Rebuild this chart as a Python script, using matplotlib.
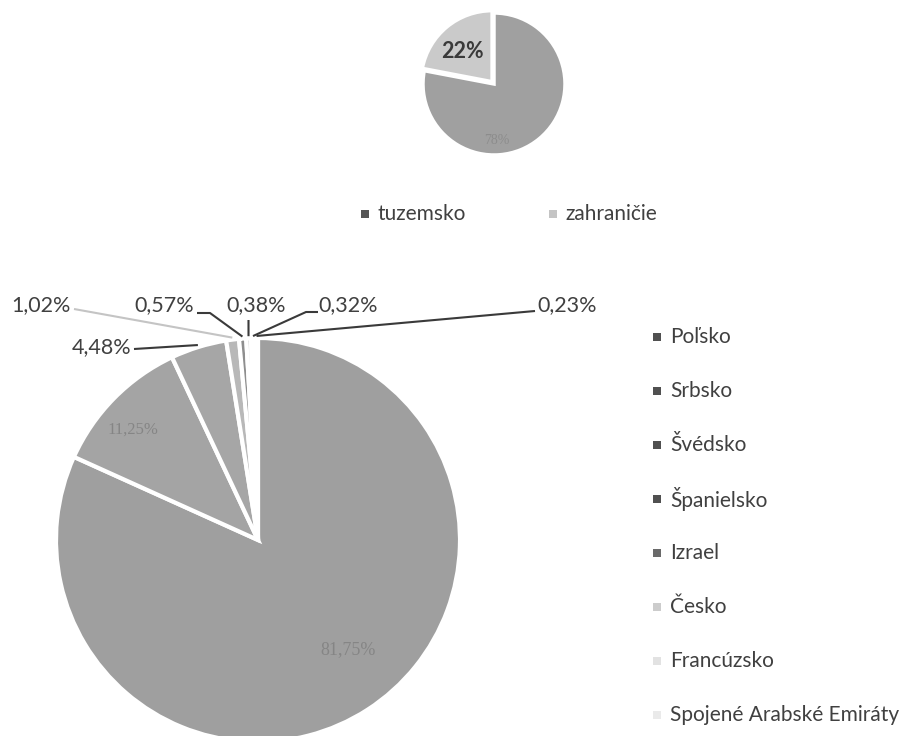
import matplotlib
matplotlib.use('Agg')
import matplotlib.pyplot as plt
import numpy as np

# ---------------- data ----------------
top_labels = ['tuzemsko', 'zahraničie']
top_values = [78, 22]
top_texts = ['78%', '22%']

countries = ['Poľsko', 'Srbsko', 'Švédsko', 'Španielsko', 'Izrael',
             'Česko', 'Francúzsko', 'Spojené Arabské Emiráty']
shares = [81.75, 11.25, 4.48, 1.02, 0.57, 0.38, 0.32, 0.23]
share_texts = ['81,75%', '11,25%', '4,48%', '1,02%', '0,57%', '0,38%', '0,32%', '0,23%']

# ---------------- styles ----------------
W, H = 908, 736
FONT = ['Lato', 'DejaVu Sans']
top_colors = ['#a0a0a0', '#cacaca']
top_legend_colors = ['#555555', '#c4c4c4']
bot_colors = ['#9f9f9f', '#a4a4a4', '#a6a6a6', '#b8b8b8', '#8e8e8e',
              '#d0d0d0', '#e2e2e2', '#ebebeb']
bot_legend_colors = ['#505050', '#505050', '#505050', '#505050', '#6a6a6a',
                     '#cccccc', '#e2e2e2', '#eaeaea']

plt.rcParams['font.family'] = FONT

fig = plt.figure(figsize=(W / 100, H / 100), dpi=100)
ax = fig.add_axes([0, 0, 1, 1])


def P(x, y):
    return (x, H - y)


# ---------------- top pie ----------------
top_c = P(494, 84)
top_r = 71
ax.pie(top_values, colors=top_colors, startangle=90, counterclock=False,
       center=top_c, radius=top_r, explode=[0, 3],
       wedgeprops=dict(edgecolor='white', linewidth=2.5))

# inside labels
ax.text(*P(462, 52), top_texts[1], ha='center', va='center', fontsize=15.5,
        fontweight='bold', color='#3a3a3a')
ax.text(*P(497, 140), top_texts[0], ha='center', va='center', fontsize=10,
        color='#8c8c8c', family=['Liberation Serif'])

# top legend
top_leg_pos = [(365, 214), (553, 214)]
for (lx, ly), lab, col in zip(top_leg_pos, top_labels, top_legend_colors):
    ax.scatter(*P(lx, ly), marker='s', s=26, color=col, linewidths=0)
    ax.text(*P(lx + 12, ly), lab, ha='left', va='center', fontsize=15,
            color='#404040')

# ---------------- bottom pie ----------------
bot_c = P(258, 540)
bot_r = 202
wedges, _ = ax.pie(shares, colors=bot_colors, startangle=90, counterclock=False,
                   center=bot_c, radius=bot_r,
                   wedgeprops=dict(edgecolor='white', linewidth=3))

# inside labels (faint)
ax.text(*P(133, 430), share_texts[1], ha='center', va='center', fontsize=12,
        color='#858585', family=['Liberation Serif'])
ax.text(*P(348, 650), share_texts[0], ha='center', va='center', fontsize=13,
        color='#858585', family=['Liberation Serif'])

# outside labels with leader lines (text position, leader elbow points)
outside = {
    2: dict(text=(102, 347), path=[(134, 349)], col='#3a3a3a'),
    3: dict(text=(41, 305), path=[(74, 309)], col='#c4c4c4'),
    4: dict(text=(164, 305), path=[(197, 313), (210, 313)], col='#3a3a3a'),
    5: dict(text=(256, 305), path=[(248.5, 320)], col='#3a3a3a'),
    6: dict(text=(348, 305), path=[(318, 312), (306, 312)], col='#3a3a3a'),
    7: dict(text=(567, 305), path=[(535, 311)], col='#3a3a3a'),
}
for i, spec in outside.items():
    w = wedges[i]
    mid = np.deg2rad(0.5 * (w.theta1 + w.theta2))
    ex = bot_c[0] + bot_r * 1.01 * np.cos(mid)
    ey = bot_c[1] + bot_r * 1.01 * np.sin(mid)
    tx, ty = spec['text']
    ax.text(*P(tx, ty), share_texts[i], ha='center', va='center',
            fontsize=15.5, color='#404040')
    pts = [P(x, y) for (x, y) in spec['path']] + [(ex, ey)]
    xs, ys = zip(*pts)
    ax.plot(xs, ys, color=spec['col'], lw=1.5, solid_capstyle='butt')

# right legend
leg_x = 657
leg_y0 = 337
leg_dy = 54.0
for k, (lab, col) in enumerate(zip(countries, bot_legend_colors)):
    ly = leg_y0 + k * leg_dy
    ax.scatter(*P(leg_x, ly), marker='s', s=32, color=col, linewidths=0)
    ax.text(*P(leg_x + 13, ly), lab, ha='left', va='center', fontsize=15,
            color='#404040')

ax.set_xlim(0, W)
ax.set_ylim(0, H)
ax.set_aspect('equal')
ax.axis('off')

fig.savefig('out.png', dpi=100, facecolor='white')
